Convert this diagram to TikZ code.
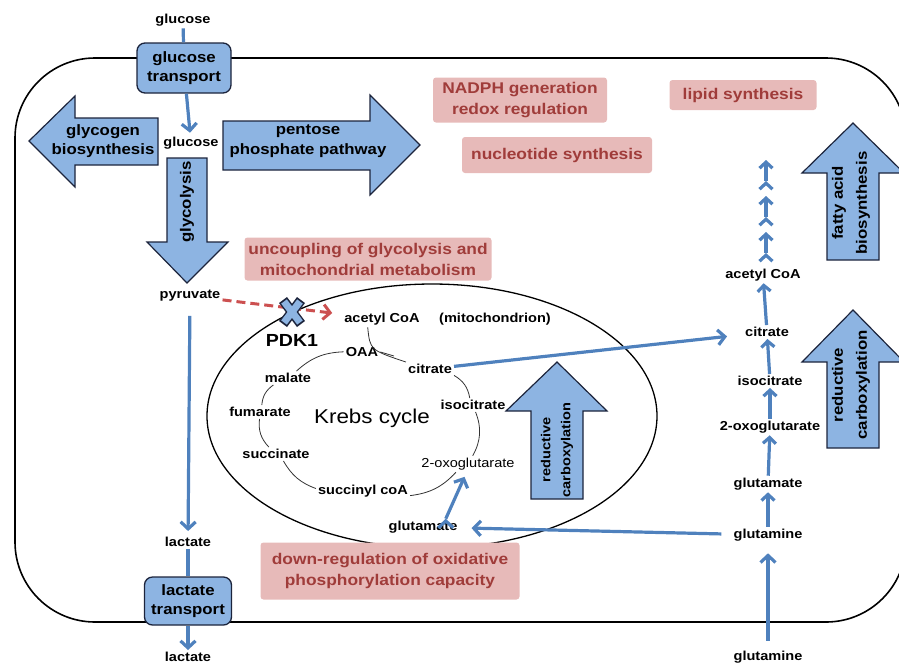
\documentclass[tikz,border=0pt]{standalone}
\usepackage{fontspec}
\setmainfont{Liberation Sans}[FakeStretch=1.12]
\usetikzlibrary{arrows.meta}
\definecolor{cellblue}{RGB}{141,180,226}
\definecolor{flowblue}{RGB}{79,129,189}
\definecolor{pinkbg}{RGB}{231,186,185}
\definecolor{pinktext}{RGB}{160,60,58}
\definecolor{reddash}{RGB}{204,80,80}
\definecolor{navy}{RGB}{28,36,60}
\tikzset{
  lbl/.style={font=\fontsize{13}{15}\selectfont\bfseries,inner sep=2pt},
  blocktxt/.style={font=\fontsize{15}{19.5}\selectfont\bfseries,align=center,inner sep=0pt},
  note/.style={fill=pinkbg,text=pinktext,rounded corners=3pt,align=center,inner sep=0pt,
    font=\fontsize{15.5}{21}\selectfont\bfseries},
  transp/.style={fill=cellblue,draw=navy,line width=1.3pt,rounded corners=8pt,align=center,
    inner sep=0pt,font=\fontsize{15}{19}\selectfont\bfseries},
  block/.style={fill=cellblue,draw=navy,line width=1.2pt,line join=miter},
  flow/.style={draw=flowblue,line width=3.2pt,-{Straight Barb[length=7pt,width=15pt]}},
  smallflow/.style={draw=flowblue,line width=3.2pt,-{Straight Barb[length=6pt,width=13pt]}},
  link/.style={draw=flowblue,line width=3.2pt},
  cyc/.style={draw=black!80,line width=0.8pt}
}
\begin{document}
\begin{tikzpicture}[x=1pt,y=-1pt]
    \useasboundingbox (0,0) rectangle (899,665);
    \clip (0,0) rectangle (899,665);
    % cell and mitochondrion
    \draw[line width=1.6pt,rounded corners=80pt] (15,58) rectangle (906,622);
    \draw[line width=1.3pt] (432,416) ellipse [x radius=225,y radius=132];

    % pink notes
    \node[note,minimum width=174pt,minimum height=45pt] (nadph) at (520,100) {NADPH generation\\redox regulation};
    \node[note,minimum width=147pt,minimum height=30pt] (lipid) at (743,95) {lipid synthesis};
    \node[note,minimum width=190pt,minimum height=36pt] (nucl) at (557,155) {nucleotide synthesis};
    \node[note,minimum width=247pt,minimum height=43pt] (uncoup) at (368,259) {uncoupling of glycolysis and\\mitochondrial metabolism};
    \node[note,minimum width=259pt,minimum height=57pt] (downreg) at (390,571) {down-regulation of oxidative\\phosphorylation capacity};

    % block arrows
    \filldraw[block] (29,141) -- (75,96) -- (75,118) -- (158,118) -- (158,165) -- (75,165) -- (75,187) -- cycle;
    \filldraw[block] (223,121) -- (370,121) -- (370,95) -- (420,145) -- (370,195) -- (370,170) -- (223,170) -- cycle;
    \filldraw[block] (167,158) -- (207,158) -- (207,242) -- (228,242) -- (187,283) -- (147,242) -- (167,242) -- cycle;
    \filldraw[block] (531,499) -- (531,411) -- (506,411) -- (557,362) -- (607,411) -- (583,411) -- (583,499) -- cycle;
    \filldraw[block] (827,260) -- (827,173) -- (802,173) -- (853,123) -- (904,173) -- (879,173) -- (879,260) -- cycle;
    \filldraw[block] (827,448) -- (827,362) -- (802,362) -- (853,310) -- (904,362) -- (879,362) -- (879,448) -- cycle;
    \node[blocktxt] (glycogen) at (103,141) {glycogen\\biosynthesis};
    \node[blocktxt] (pentose) at (308,141) {pentose\\phosphate pathway};
    \node[blocktxt,rotate=90] (glycolysis) at (187,202) {glycolysis};
    \node[blocktxt,rotate=90,font=\fontsize{13}{20}\selectfont\bfseries] (redcarb) at (557,450) {reductive\\carboxylation};
    \node[blocktxt,rotate=90,font=\fontsize{15}{24}\selectfont\bfseries] (fatty) at (851,203) {fatty acid\\biosynthesis};
    \node[blocktxt,rotate=90,font=\fontsize{15}{24}\selectfont\bfseries] (redcarb2) at (851,385) {reductive\\carboxylation};

    % transporters
    \node[transp,minimum width=94pt,minimum height=50pt] (gtrans) at (184,68) {glucose\\transport};
    \node[transp,minimum width=87pt,minimum height=48pt] (ltrans) at (188,601) {lactate\\transport};

    % metabolites, cytosol
    \node[lbl] (glcout) at (183,20) {glucose};
    \node[lbl] (glcin) at (191,143) {glucose};
    \node[lbl] (pyr) at (190,296) {pyruvate};
    \node[lbl] (lac1) at (188,542) {lactate};
    \node[lbl] (lac2) at (188,657) {lactate};

    % metabolites, mitochondrion
    \node[lbl] (acoa) at (382,319) {acetyl CoA};
    \node[lbl] (mito) at (495,319) {(mitochondrion)};
    \node[font=\fontsize{17.5}{20}\selectfont\bfseries,inner sep=1pt] (pdk) at (292,340) {PDK1};
    \node[lbl] (oaa) at (362,352) {OAA};
    \node[lbl] (cit) at (430,369) {citrate};
    \node[lbl] (mal) at (288,378) {malate};
    \node[lbl] (icit) at (473,405) {isocitrate};
    \node[lbl] (fum) at (260,412) {fumarate};
    \node[font=\fontsize{20}{22}\selectfont] (krebs) at (372,418) {Krebs cycle};
    \node[lbl,font=\fontsize{13}{15}\selectfont] (oxo) at (468,464) {2-oxoglutarate};
    \node[lbl] (succ) at (276,454) {succinate};
    \node[lbl] (sucoa) at (363,491) {succinyl coA};
    \node[lbl] (glu) at (423,527) {glutamate};

    % metabolites, right column
    \node[lbl] (gln2) at (768,657) {glutamine};
    \node[lbl] (gln1) at (768,535) {glutamine};
    \node[lbl] (rglu) at (768,484) {glutamate};
    \node[lbl] (roxo) at (770,427) {2-oxoglutarate};
    \node[lbl] (ricit) at (770,381) {isocitrate};
    \node[lbl] (rcit) at (767,332) {citrate};
    \node[lbl] (racoa) at (763,275) {acetyl CoA};
    \coordinate (f1) at (766,253);
    \coordinate (f2) at (766,232);
    \coordinate (f3) at (766,217);
    \coordinate (f4) at (766,196);
    \coordinate (f5) at (766,181);
    \coordinate (f6) at (766,160);

    % Krebs cycle
    \coordinate (jn) at (394,356);
    \draw[cyc] (acoa.210) .. controls (370,350) .. (cit.north west);
    \draw[cyc] (oaa.east) -- (jn);
    \path [cyc](cit) edge[bend left=25] (icit);
    \path [cyc](icit) edge[bend left=25] (oxo);
    \path [cyc](oxo) edge[bend left=20] (sucoa);
    \path [cyc](sucoa) edge[bend left=20] (succ);
    \path [cyc](succ) edge[bend left=25] (fum);
    \path [cyc](fum) edge[bend left=25] (mal);
    \path [cyc](mal) edge[bend left=20] (oaa);

    % fluxes
    \path [link](glcout) edge (gtrans);
    \path [flow](gtrans) edge[shorten >=2pt] (glcin);
    \path [flow](pyr) edge[shorten <=12pt,shorten >=4pt] (lac1);
    \path [link](lac1) edge (ltrans);
    \path [flow](ltrans) edge (lac2);
    \path [flow](cit) edge[shorten >=16pt] (rcit);
    \path [flow](gln1) edge[shorten <=10pt,shorten >=12pt] (glu);
    \path [flow](glu.20) edge[shorten >=5pt] (oxo.260);
    \path [flow](gln2) edge[shorten <=8pt,shorten >=10pt] (gln1);
    \path [smallflow](gln1) edge (rglu);
    \path [smallflow](rglu) edge (roxo);
    \path [smallflow](roxo) edge (ricit);
    \path [smallflow](ricit) edge (rcit);
    \path [smallflow](rcit) edge (racoa);
    \path [smallflow](f1) edge (f2);
    \path [smallflow](f3) edge (f4);
    \path [smallflow](f5) edge (f6);
    \path [draw=reddash,line width=3pt,dash pattern=on 9pt off 5pt,-{Straight Barb[length=7pt,width=15pt]}](pyr) edge[shorten >=10pt] (acoa);

    % PDK1 block
    \draw[navy,line width=10pt] (283,300) -- (301,324) (301,300) -- (283,324);
    \draw[cellblue,line width=7pt] (284,301.5) -- (300,322.5) (300,301.5) -- (284,322.5);
\end{tikzpicture}
\end{document}
